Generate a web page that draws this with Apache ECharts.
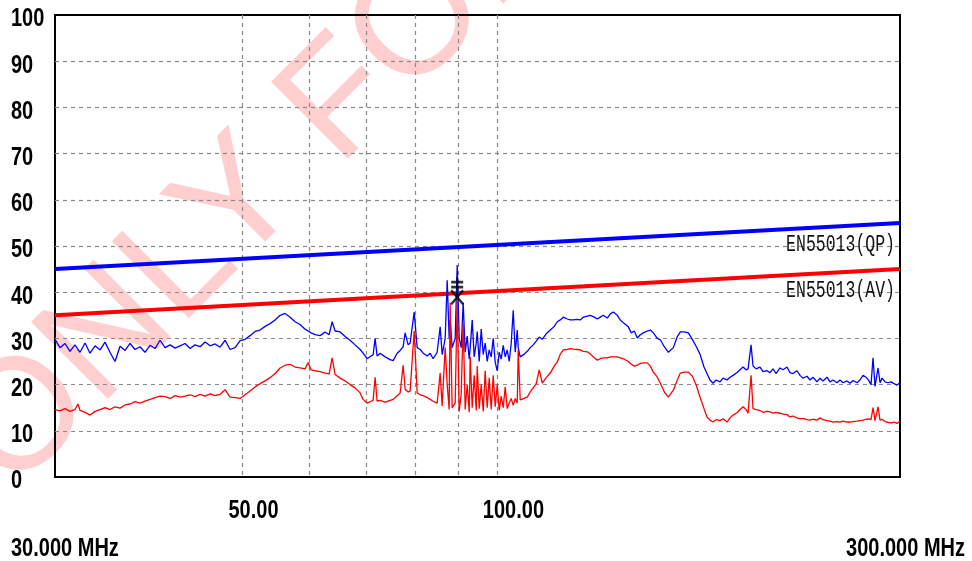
<!DOCTYPE html>
<html>
<head>
<meta charset="utf-8">
<script src="https://cdn.jsdelivr.net/npm/echarts@6/dist/echarts.min.js"></script>
<style>
  html, body { margin: 0; padding: 0; background: #fff; }
  #chart { width: 972px; height: 561px; }
</style>
</head>
<body>
<div id="chart"></div>
<script>
// Sweep frequencies (MHz) shared by both detector traces
const freqMHz = [
  30.00, 30.41, 30.83, 31.25, 31.68, 31.94, 32.12, 32.56, 33.00, 33.46,
  33.92, 34.38, 34.85, 35.33, 35.82, 36.31, 36.81, 37.31, 37.82, 38.34,
  38.87, 39.40, 39.94, 40.49, 41.05, 41.61, 42.18, 42.76, 43.35, 43.94,
  44.55, 45.16, 45.78, 46.41, 47.04, 47.69, 48.34, 49.01, 49.68, 50.36,
  51.05, 51.75, 52.46, 53.18, 53.91, 54.65, 55.40, 56.16, 56.93, 57.71,
  58.50, 59.30, 59.79, 60.28, 60.94, 61.78, 62.63, 63.32, 63.84, 64.36,
  65.24, 66.14, 67.04, 67.96, 68.90, 69.46, 70.22, 70.99, 71.38, 71.77,
  72.16, 72.76, 73.76, 74.77, 75.39, 76.21, 76.84, 77.47, 77.89, 78.53,
  78.96, 79.83, 80.49, 81.15, 81.82, 82.71, 83.39, 84.07, 84.99, 85.69,
  86.16, 86.87, 87.35, 87.82, 88.06, 88.54, 89.27, 89.76, 90.25, 90.75,
  91.24, 91.74, 92.24, 92.75, 93.00, 93.51, 94.02, 94.54, 94.80, 95.31,
  95.83, 96.36, 96.88, 97.41, 97.94, 98.48, 99.02, 99.56, 100.11, 100.65,
  101.20, 101.75, 102.31, 102.87, 103.43, 104.00, 104.57, 105.14, 105.72, 106.00,
  106.58, 107.75, 108.64, 109.53, 110.43, 111.33, 112.25, 113.17, 114.41, 115.67,
  116.94, 117.90, 118.87, 119.85, 121.16, 122.15, 123.16, 124.51, 125.53, 126.56,
  127.95, 129.00, 130.41, 131.49, 132.56, 133.65, 135.12, 136.23, 137.35, 138.86,
  139.99, 141.53, 143.08, 144.26, 145.44, 146.64, 147.84, 149.05, 150.69, 151.93,
  153.18, 154.86, 156.13, 157.84, 159.57, 160.44, 161.76, 163.54, 164.88, 166.69,
  168.51, 170.36, 172.23, 173.95, 175.86, 177.30, 178.76, 180.23, 181.71, 183.71,
  185.22, 187.25, 188.79, 190.34, 192.43, 194.01, 195.60, 197.21, 198.29, 199.92,
  201.02, 202.67, 204.84, 206.52, 208.79, 210.50, 212.23, 213.97, 216.32, 218.10,
  220.49, 222.30, 224.12, 226.58, 228.44, 230.31, 232.84, 234.75, 236.68, 239.28,
  241.24, 243.22, 245.89, 247.91, 249.94, 252.69, 254.76, 256.85, 259.67, 261.80,
  263.95, 266.85, 269.04, 271.25, 273.47, 275.72, 277.23, 278.75, 280.27, 282.58,
  284.12, 285.68, 288.02, 290.39, 292.77, 295.17, 297.54, 300.00
];

// Peak detector reading (dB)
const peakLevel = [
  29.8, 28.0, 28.9, 27.2, 28.6, 27.6, 27.0, 29.0, 26.8, 28.4,
  27.5, 29.2, 27.0, 25.0, 28.3, 27.4, 28.9, 27.6, 28.2, 27.0,
  28.5, 27.8, 29.6, 28.0, 28.6, 27.9, 28.4, 28.9, 27.8, 28.6,
  28.2, 29.2, 28.4, 28.8, 28.1, 29.6, 27.6, 28.0, 29.5, 29.8,
  30.6, 31.5, 31.8, 32.6, 33.2, 34.0, 35.0, 35.4, 34.6, 33.6,
  33.0, 32.0, 31.6, 31.2, 30.8, 30.6, 31.4, 30.8, 33.6, 31.6,
  31.4, 30.4, 29.6, 28.6, 27.6, 26.8, 25.6, 26.2, 26.4, 30.0,
  26.2, 26.8, 26.0, 25.4, 25.2, 26.8, 27.4, 28.2, 31.2, 28.6,
  29.0, 35.7, 28.0, 27.6, 26.8, 26.2, 26.8, 25.6, 27.0, 32.5,
  26.5, 30.0, 42.6, 30.0, 34.0, 28.0, 30.0, 45.9, 30.0, 28.0,
  37.7, 27.0, 30.5, 25.5, 28.0, 34.0, 26.0, 29.0, 31.5, 25.0,
  32.0, 26.5, 29.0, 25.0, 27.5, 26.0, 30.0, 24.8, 23.0, 27.0,
  25.5, 28.5, 26.0, 27.5, 25.0, 29.0, 36.1, 27.0, 31.8, 28.0,
  26.0, 26.6, 27.2, 28.0, 28.6, 29.4, 30.3, 29.8, 31.0, 31.8,
  32.6, 33.6, 34.0, 34.6, 34.2, 34.0, 34.0, 34.1, 34.0, 34.6,
  34.8, 35.0, 34.6, 34.2, 34.6, 35.0, 34.4, 35.3, 35.7, 35.0,
  34.0, 33.2, 32.5, 31.2, 31.6, 30.1, 30.8, 31.2, 31.6, 31.8,
  31.2, 30.0, 29.7, 28.2, 27.0, 26.8, 28.0, 30.4, 31.4, 31.4,
  31.2, 29.8, 28.2, 26.6, 23.8, 22.4, 21.0, 20.3, 21.0, 20.6,
  21.4, 21.0, 21.6, 22.0, 22.6, 23.2, 23.8, 23.2, 23.4, 28.6,
  24.0, 23.4, 23.8, 22.8, 23.0, 22.6, 23.4, 22.4, 23.6, 23.2,
  23.8, 22.6, 22.4, 23.0, 22.0, 21.4, 21.8, 21.0, 21.6, 20.6,
  21.4, 20.8, 21.6, 20.6, 21.0, 20.4, 21.0, 20.4, 20.8, 20.3,
  20.9, 20.4, 21.0, 22.0, 21.6, 20.8, 20.0, 25.8, 19.6, 23.6,
  20.4, 21.4, 20.6, 20.4, 20.6, 20.2, 19.9, 20.4
];

// Average detector reading (dB)
const avgLevel = [
  14.6, 14.3, 14.8, 14.2, 14.6, 15.8, 14.4, 14.0, 13.4, 14.2,
  14.6, 15.0, 14.6, 15.2, 14.9, 15.6, 15.8, 16.3, 16.0, 16.4,
  16.8, 17.2, 17.5, 17.4, 17.0, 17.6, 17.3, 17.5, 17.8, 17.4,
  17.9, 17.5, 18.0, 17.6, 17.9, 18.9, 17.3, 17.2, 17.0, 17.8,
  18.6, 19.5, 20.2, 20.8, 21.5, 22.4, 23.6, 24.2, 24.4, 23.8,
  23.6, 23.4, 24.8, 23.2, 23.0, 22.8, 22.5, 22.3, 25.8, 22.2,
  21.4, 20.8, 20.0, 19.3, 18.2, 16.8, 16.0, 16.4, 16.6, 21.6,
  16.4, 16.6, 16.2, 16.6, 16.8, 17.6, 18.2, 24.2, 19.0, 18.4,
  18.6, 31.6, 18.2, 17.8, 17.6, 17.2, 16.8, 16.4, 16.0, 22.5,
  15.4, 28.0, 20.0, 14.6, 37.7, 15.0, 16.0, 38.4, 14.2, 18.0,
  33.3, 14.6, 20.0, 14.0, 26.0, 15.0, 22.0, 14.4, 24.0, 14.8,
  20.0, 14.2, 23.0, 15.0, 21.5, 14.6, 22.0, 15.2, 20.0, 14.4,
  17.5, 15.0, 19.5, 14.8, 16.0, 17.0, 15.5, 17.0, 16.0, 27.5,
  16.7, 17.0, 17.3, 18.4, 19.3, 20.2, 23.2, 20.3, 21.5, 22.5,
  24.0, 24.9, 26.6, 27.5, 27.6, 27.8, 27.7, 27.6, 27.5, 27.2,
  27.1, 26.6, 25.8, 25.3, 25.6, 25.8, 25.8, 26.0, 26.0, 26.0,
  25.8, 25.5, 25.0, 24.4, 24.0, 24.2, 24.6, 24.7, 24.7, 24.0,
  22.7, 21.6, 20.3, 18.4, 17.3, 17.6, 18.8, 21.0, 22.5, 22.7,
  22.7, 21.8, 19.8, 17.3, 14.8, 13.0, 12.3, 11.9, 12.4, 12.2,
  12.6, 11.9, 12.8, 13.4, 13.9, 14.6, 15.2, 14.6, 13.8, 22.0,
  14.8, 14.6, 14.4, 14.0, 14.2, 14.1, 13.8, 14.0, 13.8, 13.6,
  13.5, 13.0, 13.2, 12.8, 12.6, 12.7, 12.4, 12.3, 12.5, 12.3,
  12.8, 12.4, 12.2, 12.1, 11.9, 12.0, 11.9, 12.1, 11.9, 11.9,
  12.0, 12.1, 12.2, 12.3, 12.5, 12.6, 12.4, 15.0, 12.2, 15.2,
  12.3, 12.5, 12.0, 11.8, 11.7, 11.9, 11.6, 12.0
];

// EN55013 limits, linear in log(frequency)
const limitFreq = [30, 300];
const limitQP = [45, 55];
const limitAV = [35, 45];

// Final measurement at the worst-case frequency
const markerFreq = [89.76];
const markerQP = [41.3];
const markerAV = [38.9];

// Axis settings and texts
const yMin = 0, yMax = 100, yStep = 10;
const yTicks = [0, 10, 20, 30, 40, 50, 60, 70, 80, 90, 100];
const gridFreqs = [40, 50, 60, 70, 80, 90, 100, 200];
const labelFreqs = [50, 100];
const startLabel = '30.000 MHz';
const stopLabel = '300.000 MHz';
const qpName = 'EN55013(QP)';
const avName = 'EN55013(AV)';
const watermark = 'ONLY FOR';

const pairs = (xs, ys) => xs.map((x, i) => [x, ys[i]]);
const tickFont = "'Liberation Sans', Arial, sans-serif";
const monoFont = "'Liberation Mono', 'DejaVu Sans Mono', monospace";

const chart = echarts.init(document.getElementById('chart'), null, { renderer: 'canvas' });

const dashed = { color: '#8a8a8a', width: 1.2, type: [4, 4] };

chart.setOption({
  animation: false,
  backgroundColor: '#ffffff',
  grid: {
    left: 55, right: 72, top: 15, bottom: 84,
    show: true, borderColor: '#000000', borderWidth: 2,
    backgroundColor: 'transparent'
  },
  xAxis: {
    type: 'log', logBase: 10, min: 30, max: 300,
    axisLine: { show: false },
    axisTick: { show: false, customValues: gridFreqs },
    axisLabel: { show: false },
    splitLine: { show: true, showMinLine: false, showMaxLine: false, lineStyle: dashed },
    minorTick: { show: false },
    minorSplitLine: { show: false }
  },
  yAxis: {
    type: 'value', min: yMin, max: yMax, interval: yStep,
    axisLine: { show: false },
    axisTick: { show: false },
    axisLabel: { show: false },
    splitLine: { show: true, showMinLine: false, showMaxLine: false, lineStyle: dashed }
  },
  series: [
    {
      name: qpName, type: 'line', data: pairs(limitFreq, limitQP),
      symbol: 'none', lineStyle: { color: '#0000ff', width: 4 }, z: 3
    },
    {
      name: avName, type: 'line', data: pairs(limitFreq, limitAV),
      symbol: 'none', lineStyle: { color: '#ff0000', width: 4 }, z: 3
    },
    {
      name: 'Peak', type: 'line', data: pairs(freqMHz, peakLevel),
      symbol: 'none', lineStyle: { color: '#0000ff', width: 1.3 }, z: 4
    },
    {
      name: 'Average', type: 'line', data: pairs(freqMHz, avgLevel),
      symbol: 'none', lineStyle: { color: '#ff0000', width: 1.3 }, z: 5
    },
    {
      name: 'QP marker', type: 'scatter', data: pairs(markerFreq, markerQP),
      symbol: 'path://M6 0 L6 18 M0 5 L12 5 M0 10 L12 10',
      symbolSize: [12, 18],
      itemStyle: { color: 'transparent', borderColor: '#000', borderWidth: 2.2 }, z: 6
    },
    {
      name: 'AV marker', type: 'scatter', data: pairs(markerFreq, markerAV),
      symbol: 'path://M0 0 L12 13 M12 0 L0 13',
      symbolSize: [12, 14],
      itemStyle: { color: 'transparent', borderColor: '#000', borderWidth: 2.4 }, z: 6
    }
  ]
});

// Tick labels placed through the axis scales (tall, narrow instrument-style digits)
const px = (f, v) => chart.convertToPixel({ gridIndex: 0 }, [f, v]);
const tickText = (text, x, y, align) => ({
  type: 'text', x: x, y: y, scaleY: 1.25, z: 10, silent: true,
  style: {
    text: text, fontFamily: tickFont, fontWeight: 'bold', fontSize: 20,
    fill: '#000', textAlign: align, textVerticalAlign: 'middle'
  }
});

const graphics = [
  {
    type: 'text', x: -19, y: 464, rotation: Math.PI / 4, z: -10, silent: true,
    style: {
      text: watermark, fontFamily: "'Liberation Sans', Arial, sans-serif",
      fontSize: 158, fill: '#ffcfcf', textAlign: 'left', textVerticalAlign: 'middle'
    }
  }
];

yTicks.forEach(v => {
  const p = px(30, v);
  graphics.push(tickText(String(v), 11, p[1] + 4.5, 'left'));
});
const axisBottom = px(30, yMin)[1];
labelFreqs.forEach(f => {
  const p = px(f, yMin);
  graphics.push(tickText(f.toFixed(2), p[0] - 14, axisBottom + 34, 'left'));
});
graphics.push(tickText(startLabel, 11, 549, 'left'));
graphics.push(tickText(stopLabel, 965, 549, 'right'));

// Limit line captions, right-aligned under each line's end
const plotRight = px(300, yMin)[0];
graphics.push({
  type: 'text', x: plotRight - 5, y: px(300, limitQP[1])[1] + 22, scaleY: 1.4, z: 10, silent: true,
  style: { text: qpName, fontFamily: monoFont, fontSize: 16.5, fill: '#111', textAlign: 'right', textVerticalAlign: 'middle' }
});
graphics.push({
  type: 'text', x: plotRight - 5, y: px(300, limitAV[1])[1] + 22, scaleY: 1.4, z: 10, silent: true,
  style: { text: avName, fontFamily: monoFont, fontSize: 16.5, fill: '#111', textAlign: 'right', textVerticalAlign: 'middle' }
});

chart.setOption({ graphic: graphics });
</script>
</body>
</html>
